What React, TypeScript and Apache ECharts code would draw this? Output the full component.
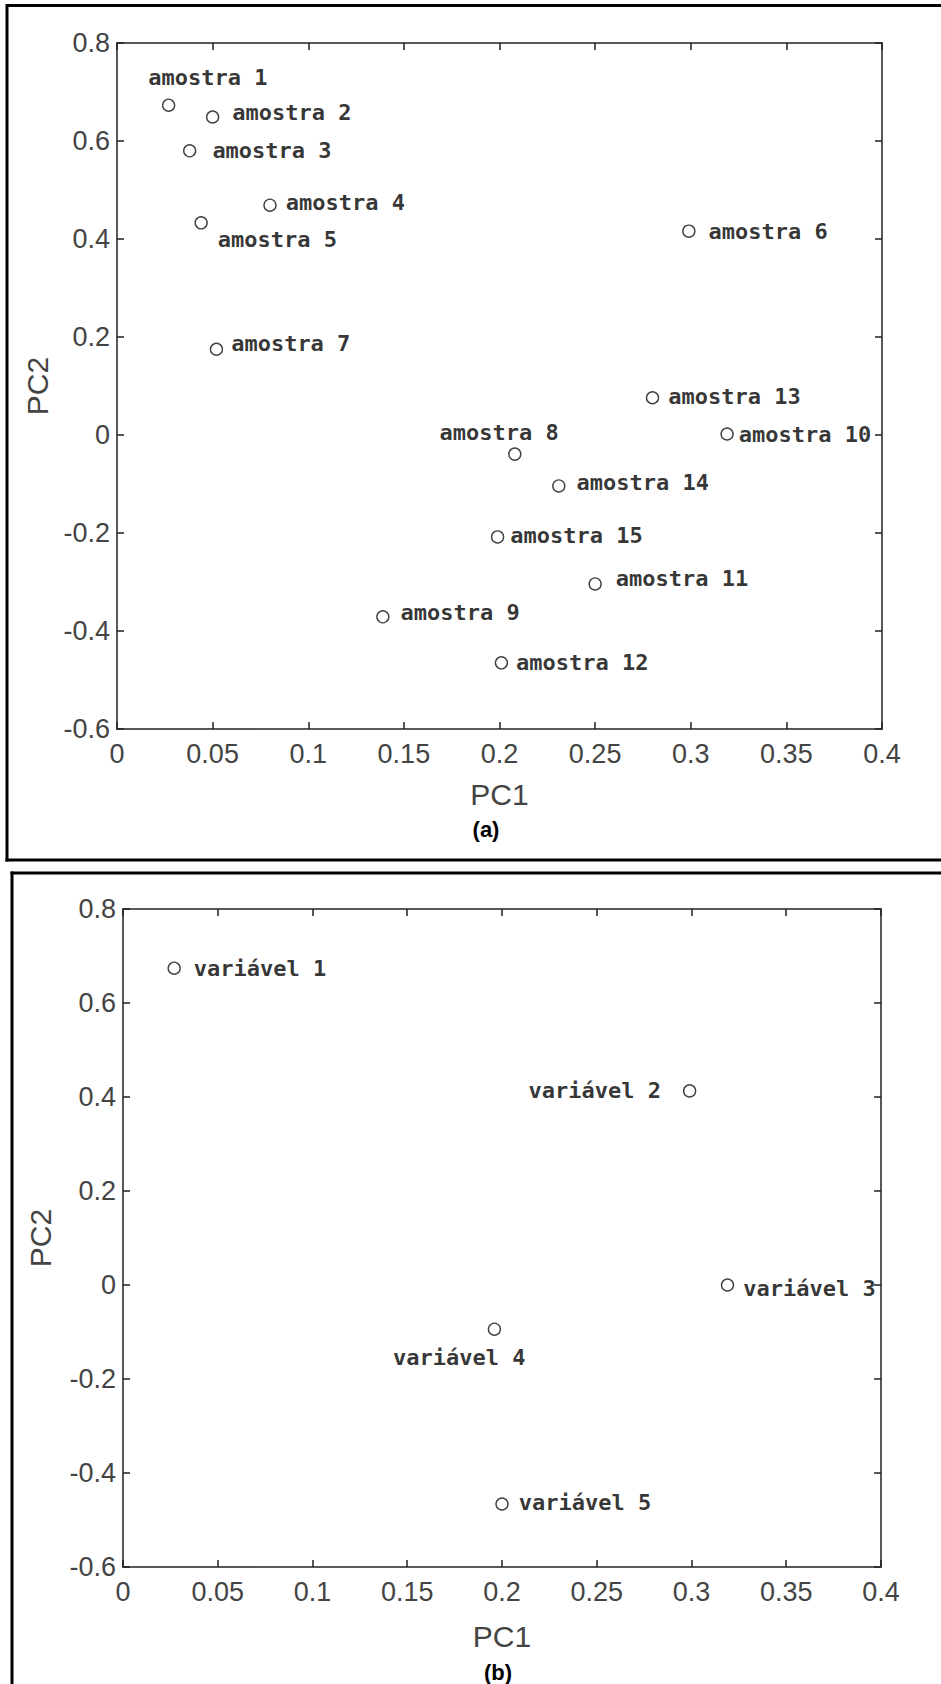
import React, { useEffect, useRef } from "react";
import * as echarts from "echarts";

// ---- data ----
const sampleNames = [
  "amostra 1", "amostra 2", "amostra 3", "amostra 4", "amostra 5",
  "amostra 6", "amostra 7", "amostra 8", "amostra 9", "amostra 10",
  "amostra 11", "amostra 12", "amostra 13", "amostra 14", "amostra 15",
];
const samplePC1 = [0.027, 0.05, 0.038, 0.08, 0.044, 0.299, 0.052, 0.208, 0.139, 0.319, 0.25, 0.201, 0.28, 0.231, 0.199];
const samplePC2 = [0.673, 0.649, 0.58, 0.469, 0.433, 0.416, 0.175, -0.039, -0.371, 0.002, -0.304, -0.465, 0.076, -0.104, -0.208];

const variableNames = ["variável 1", "variável 2", "variável 3", "variável 4", "variável 5"];
const variablePC1 = [0.027, 0.299, 0.319, 0.196, 0.2];
const variablePC2 = [0.674, 0.413, 0.0, -0.094, -0.466];

const pc1Range = [0, 0.4];
const pc1Step = 0.05;
const pc2Range = [-0.6, 0.8];
const pc2Step = 0.2;

// ---- label placement (style, not data): [side, dx, dy] relative to marker centre ----
const sampleLabelPlace: [string, number, number][] = [
  ["right", -21, -28], ["right", 19, -4], ["right", 22, 0], ["right", 15, -3], ["right", 16, 17],
  ["right", 19, 0], ["right", 14, -6], ["right", -76, -22], ["right", 17, -4], ["right", 11, 0],
  ["right", 20, -5], ["right", 14, 0], ["right", 15, -1], ["right", 17, -3], ["right", 12, -1],
];
const variableLabelPlace: [string, number, number][] = [
  ["right", 19, 0], ["left", -28, 0], ["right", 15, 3], ["right", -102, 28], ["right", 16, -2],
];

const SANS = "'Liberation Sans', Arial, sans-serif";
const MONO = "'DejaVu Sans Mono', 'Liberation Mono', monospace";
const AXIS_COLOR = "#222";
const TEXT_COLOR = "#444";
const R = 6;

type GridBox = { left: number; top: number; width: number; height: number; nameGapX: number; nameGapY: number };
const gridA: GridBox = { left: 117, top: 43, width: 765, height: 686, nameGapX: 50, nameGapY: 64 };
const gridB: GridBox = { left: 123, top: 909, width: 758, height: 658, nameGapX: 54, nameGapY: 68 };

function axesFor(gi: number, g: GridBox) {
  const line = { show: true, onZero: false, lineStyle: { color: AXIS_COLOR, width: 1.5 } };
  const tick = { show: true, inside: true, length: 7, lineStyle: { color: AXIS_COLOR, width: 1.5 } };
  const label = { fontFamily: SANS, fontSize: 27, color: TEXT_COLOR };
  const x = {
    gridIndex: gi, type: "value", min: pc1Range[0], max: pc1Range[1], interval: pc1Step,
    axisLine: line, axisTick: tick, splitLine: { show: false },
  };
  const y = {
    gridIndex: gi, type: "value", min: pc2Range[0], max: pc2Range[1], interval: pc2Step,
    axisLine: line, axisTick: tick, splitLine: { show: false },
  };
  return {
    xAxis: [
      {
        ...x, position: "bottom",
        axisLabel: { ...label, margin: 11, showMinLabel: true, showMaxLabel: true },
        name: "PC1", nameLocation: "middle", nameGap: g.nameGapX,
        nameTextStyle: { fontFamily: SANS, fontSize: 30, color: TEXT_COLOR },
      },
      { ...x, position: "top", axisLabel: { show: false } },
    ],
    yAxis: [
      {
        ...y, position: "left",
        axisLabel: { ...label, margin: 7, showMinLabel: true, showMaxLabel: true },
        name: "PC2", nameLocation: "middle", nameGap: g.nameGapY,
        nameTextStyle: { fontFamily: SANS, fontSize: 30, color: TEXT_COLOR },
      },
      { ...y, position: "right", axisLabel: { show: false } },
    ],
  };
}

function buildPoints(names: string[], xs: number[], ys: number[], place: [string, number, number][]) {
  return names.map((n, i) => {
    const [side, dx, dy] = place[i];
    const off = side === "right" ? [dx - R, dy] : [dx + R, dy];
    return { name: n, value: [xs[i], ys[i]], label: { position: side, offset: off } };
  });
}

function scatter(xi: number, yi: number, data: any[]) {
  return {
    type: "scatter", xAxisIndex: xi, yAxisIndex: yi, silent: true,
    symbol: "circle", symbolSize: 2 * R,
    itemStyle: { color: "rgba(255,255,255,0)", borderColor: "#111", borderWidth: 1.4 },
    label: {
      show: true, position: "right", distance: 0, formatter: "{b}",
      fontFamily: MONO, fontWeight: "bold", fontSize: 22, color: "#000",
    },
    data,
  };
}

export default function App() {
  const ref = useRef<HTMLDivElement>(null);
  useEffect(() => {
    if (!ref.current) return;
    const chart = echarts.init(ref.current, undefined, { renderer: "svg" });
    const a = axesFor(0, gridA);
    const b = axesFor(1, gridB);
    const clip = (g: GridBox) => ({
      type: "rect", z: 100,
      shape: { x: g.left + g.width + 1.5, y: g.top, width: 941 - (g.left + g.width + 1.5), height: g.height },
      style: { fill: "#fff" },
    });
    const border = (x1: number, y1: number, x2: number, y2: number) => ({
      type: "line", z: 101, shape: { x1, y1, x2, y2 }, style: { stroke: "#000", lineWidth: 3 },
    });
    chart.setOption({
      animation: false,
      backgroundColor: "#fff",
      grid: [
        { left: gridA.left, top: gridA.top, width: gridA.width, height: gridA.height },
        { left: gridB.left, top: gridB.top, width: gridB.width, height: gridB.height },
      ],
      xAxis: [...a.xAxis, ...b.xAxis],
      yAxis: [...a.yAxis, ...b.yAxis],
      series: [
        scatter(0, 0, buildPoints(sampleNames, samplePC1, samplePC2, sampleLabelPlace)),
        scatter(2, 2, buildPoints(variableNames, variablePC1, variablePC2, variableLabelPlace)),
      ],
      graphic: [
        clip(gridA),
        clip(gridB),
        border(6, 5.5, 941, 5.5),
        border(7, 4, 7, 861.5),
        border(5.5, 860, 941, 860),
        border(10.5, 873, 941, 873),
        border(12, 871.5, 12, 1684),
        {
          type: "text", z: 101, x: 486, y: 829,
          style: { text: "(a)", fontFamily: SANS, fontWeight: "bold", fontSize: 22, fill: "#000", align: "center", verticalAlign: "middle" },
        },
        {
          type: "text", z: 101, x: 498, y: 1672,
          style: { text: "(b)", fontFamily: SANS, fontWeight: "bold", fontSize: 22, fill: "#000", align: "center", verticalAlign: "middle" },
        },
      ],
    });
    return () => chart.dispose();
  }, []);
  return (
    <div
      ref={ref}
      style={{ position: "absolute", left: 0, top: 0, width: 941, height: 1684, background: "#fff" }}
    />
  );
}
